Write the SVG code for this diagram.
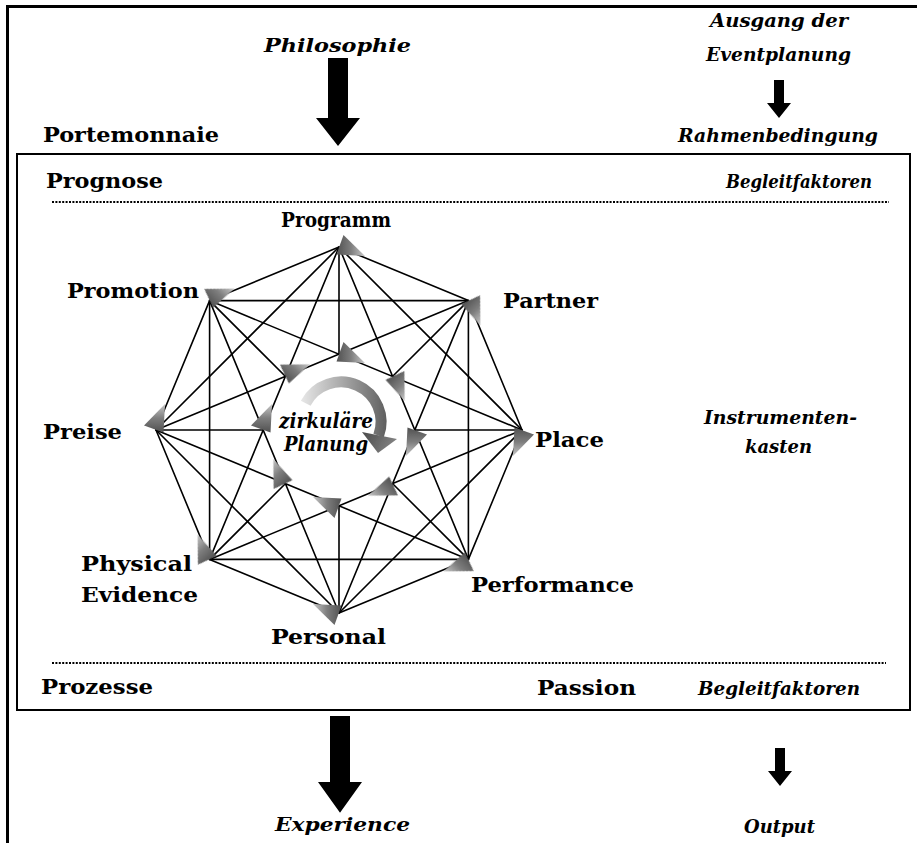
<svg xmlns="http://www.w3.org/2000/svg" xmlns:xlink="http://www.w3.org/1999/xlink" width="917" height="843" viewBox="0 0 917 843">
  <style>
    .frame { fill: none; stroke: #000; }
    .edge { fill: none; stroke: #000; stroke-width: 1.6; stroke-linejoin: round; }
    .dots { stroke: #000; stroke-width: 2.2; stroke-dasharray: 2 1.4; }
    .lbl { font-family: "DejaVu Serif", "Liberation Serif", serif; font-weight: bold; font-size: 21px; fill: #000; }
    .cond { font-family: "DejaVu Serif Condensed", "DejaVu Serif", "Liberation Serif", serif; font-weight: bold; font-size: 21px; fill: #000; }
    .ital { font-family: "DejaVu Serif Condensed", "DejaVu Serif", "Liberation Serif", serif; font-weight: bold; font-style: italic; font-size: 18px; fill: #000; }
    .center { font-family: "DejaVu Serif", "Liberation Serif", serif; font-weight: bold; font-style: italic; font-size: 20px; fill: #000; }
    .arrow { fill: #000; }
  </style>
  <defs>
    <linearGradient id="tipFill" gradientUnits="userSpaceOnUse" x1="-2" y1="0" x2="26" y2="0">
      <stop offset="0" stop-color="#525252"/>
      <stop offset="0.5" stop-color="#7e7e7e"/>
      <stop offset="1" stop-color="#c8c8c8"/>
    </linearGradient>
    <linearGradient id="ringFill" gradientUnits="userSpaceOnUse" x1="298" y1="0" x2="396" y2="0">
      <stop offset="0" stop-color="#ececec"/>
      <stop offset="0.45" stop-color="#a8a8a8"/>
      <stop offset="1" stop-color="#505050"/>
    </linearGradient>
    <linearGradient id="headFill" gradientUnits="userSpaceOnUse" x1="362" y1="432" x2="397" y2="452">
      <stop offset="0" stop-color="#4a4a4a"/>
      <stop offset="1" stop-color="#8c8c8c"/>
    </linearGradient>
    <filter id="soft" x="-40%" y="-40%" width="180%" height="180%">
      <feGaussianBlur stdDeviation="0.7"/>
    </filter>
    <!-- arrow tip in local frame: x = clockwise tangent, y = toward the centre -->
    <path id="tip" d="M4.5,-12 L26,9 L-2.5,7.5 Z" fill="url(#tipFill)" filter="url(#soft)"/>
    <path id="downArrowBig" d="M-10,0 H10 V60 H22 L0,88 L-22,60 H-10 Z"/>
    <path id="downArrowSmall" d="M-5,0 H5 V23 H12 L0,38 L-12,23 H-5 Z"/>
  </defs>

  <rect width="917" height="843" fill="#fff"/>

  <!-- outer frame (top and left) -->
  <path class="frame" d="M7.5,843 V6.5 H917" stroke-width="3"/>
  <!-- planning box -->
  <rect class="frame" x="17" y="154" width="893" height="556" stroke-width="2"/>
  <line class="dots" x1="52" y1="202" x2="889" y2="202"/>
  <line class="dots" x1="52" y1="663" x2="886" y2="663"/>

  <!-- header and footer labels -->
  <g id="header">
    <text class="ital" x="264" y="52" font-size="23" textLength="147" lengthAdjust="spacingAndGlyphs">Philosophie</text>
    <use href="#downArrowBig" xlink:href="#downArrowBig" x="338" y="58" class="arrow"/>
    <text class="ital" x="710" y="27" font-size="19" textLength="138" lengthAdjust="spacingAndGlyphs">Ausgang der</text>
    <text class="ital" x="706" y="61" font-size="19" textLength="145" lengthAdjust="spacingAndGlyphs">Eventplanung</text>
    <use href="#downArrowSmall" xlink:href="#downArrowSmall" x="779" y="80" class="arrow"/>
    <text class="cond" x="43" y="142" textLength="176" lengthAdjust="spacingAndGlyphs">Portemonnaie</text>
    <text class="ital" x="678" y="142" font-size="19" textLength="200" lengthAdjust="spacingAndGlyphs">Rahmenbedingung</text>
    <text class="cond" x="46" y="188" textLength="117" lengthAdjust="spacingAndGlyphs">Prognose</text>
    <text class="ital" x="726" y="188" textLength="146" lengthAdjust="spacingAndGlyphs">Begleitfaktoren</text>
  </g>

  <g id="footer">
    <text class="cond" x="41" y="694" textLength="112" lengthAdjust="spacingAndGlyphs">Prozesse</text>
    <text class="cond" x="537" y="695" textLength="99" lengthAdjust="spacingAndGlyphs">Passion</text>
    <text class="ital" x="698" y="695" textLength="162" lengthAdjust="spacingAndGlyphs">Begleitfaktoren</text>
    <use href="#downArrowBig" xlink:href="#downArrowBig" x="340" y="716" class="arrow" transform="translate(340 716) scale(1 1.1) translate(-340 -716)"/>
    <text class="ital" x="275" y="831" font-size="21" textLength="135" lengthAdjust="spacingAndGlyphs">Experience</text>
    <use href="#downArrowSmall" xlink:href="#downArrowSmall" x="780" y="748" class="arrow"/>
    <text class="ital" x="744" y="833" textLength="71" lengthAdjust="spacingAndGlyphs">Output</text>
  </g>

  <g id="instrumentenkasten">
    <text class="ital" x="704" y="424" textLength="153" lengthAdjust="spacingAndGlyphs">Instrumenten-</text>
    <text class="ital" x="745" y="453" textLength="67" lengthAdjust="spacingAndGlyphs">kasten</text>
  </g>

  <!-- all chords of the octagon; diameters stop at the inner ring -->
  <g id="connectors">
    <polygon class="edge" points="339,247 468.4,300.6 522,430 468.4,559.4 339,613 209.6,559.4 156,430 209.6,300.6"/>
    <polygon class="edge" points="468.4,300.6 468.4,559.4 209.6,559.4 209.6,300.6"/>
    <polygon class="edge" points="339,247 522,430 339,613 156,430"/>
    <polygon class="edge" points="339,247 468.4,559.4 156,430 468.4,300.6 339,613 209.6,300.6 522,430 209.6,559.4"/>
    <path class="edge" d="M339,247 L339,354 M468.4,300.6 L392.7,376.3 M522,430 L415,430 M468.4,559.4 L392.7,483.7 M339,613 L339,506 M209.6,559.4 L285.3,483.7 M156,430 L263,430 M209.6,300.6 L285.3,376.3"/>
  </g>

  <!-- inner ring of arrow tips -->
  <g id="inner-ring">
    <use href="#tip" xlink:href="#tip" transform="translate(339 354) rotate(0)"/>
    <use href="#tip" xlink:href="#tip" transform="translate(392.7 376.3) rotate(45)"/>
    <use href="#tip" xlink:href="#tip" transform="translate(415 430) rotate(90)"/>
    <use href="#tip" xlink:href="#tip" transform="translate(392.7 483.7) rotate(135)"/>
    <use href="#tip" xlink:href="#tip" transform="translate(339 506) rotate(180)"/>
    <use href="#tip" xlink:href="#tip" transform="translate(285.3 483.7) rotate(225)"/>
    <use href="#tip" xlink:href="#tip" transform="translate(263 430) rotate(270)"/>
    <use href="#tip" xlink:href="#tip" transform="translate(285.3 376.3) rotate(315)"/>
  </g>

  <!-- circular planning arrow -->
  <g id="zirkulaere-planung">
    <path d="M305.7,403.2 A40,40 0 0 1 378.6,435.7" fill="none" stroke="url(#ringFill)" stroke-width="11" filter="url(#soft)"/>
    <polygon points="362,432 397,439 378,453" fill="url(#headFill)" filter="url(#soft)"/>
    <text class="center" x="279" y="428" textLength="94" lengthAdjust="spacingAndGlyphs">zirkuläre</text>
    <text class="center" x="284" y="451" textLength="84" lengthAdjust="spacingAndGlyphs">Planung</text>
  </g>

  <!-- the eight P nodes -->
  <g id="node-programm">
    <use href="#tip" xlink:href="#tip" transform="translate(339 247) rotate(0)"/>
    <text class="lbl" x="281" y="227" font-size="23" textLength="110" lengthAdjust="spacingAndGlyphs">Programm</text>
  </g>
  <g id="node-partner">
    <use href="#tip" xlink:href="#tip" transform="translate(468.4 300.6) rotate(45)"/>
    <text class="lbl" x="503" y="308" textLength="95" lengthAdjust="spacingAndGlyphs">Partner</text>
  </g>
  <g id="node-place">
    <use href="#tip" xlink:href="#tip" transform="translate(522 430) rotate(90)"/>
    <text class="lbl" x="535" y="447" textLength="69" lengthAdjust="spacingAndGlyphs">Place</text>
  </g>
  <g id="node-performance">
    <use href="#tip" xlink:href="#tip" transform="translate(468.4 559.4) rotate(135)"/>
    <text class="lbl" x="471" y="592" textLength="163" lengthAdjust="spacingAndGlyphs">Performance</text>
  </g>
  <g id="node-personal">
    <use href="#tip" xlink:href="#tip" transform="translate(339 613) rotate(180)"/>
    <text class="lbl" x="271" y="644" textLength="115" lengthAdjust="spacingAndGlyphs">Personal</text>
  </g>
  <g id="node-physical-evidence">
    <use href="#tip" xlink:href="#tip" transform="translate(209.6 559.4) rotate(225)"/>
    <text class="lbl" x="81" y="571" textLength="111" lengthAdjust="spacingAndGlyphs">Physical</text>
    <text class="lbl" x="81" y="602" textLength="117" lengthAdjust="spacingAndGlyphs">Evidence</text>
  </g>
  <g id="node-preise">
    <use href="#tip" xlink:href="#tip" transform="translate(156 430) rotate(270)"/>
    <text class="lbl" x="43" y="439" textLength="79" lengthAdjust="spacingAndGlyphs">Preise</text>
  </g>
  <g id="node-promotion">
    <use href="#tip" xlink:href="#tip" transform="translate(209.6 300.6) rotate(315)"/>
    <text class="lbl" x="67" y="298" textLength="132" lengthAdjust="spacingAndGlyphs">Promotion</text>
  </g>
</svg>
